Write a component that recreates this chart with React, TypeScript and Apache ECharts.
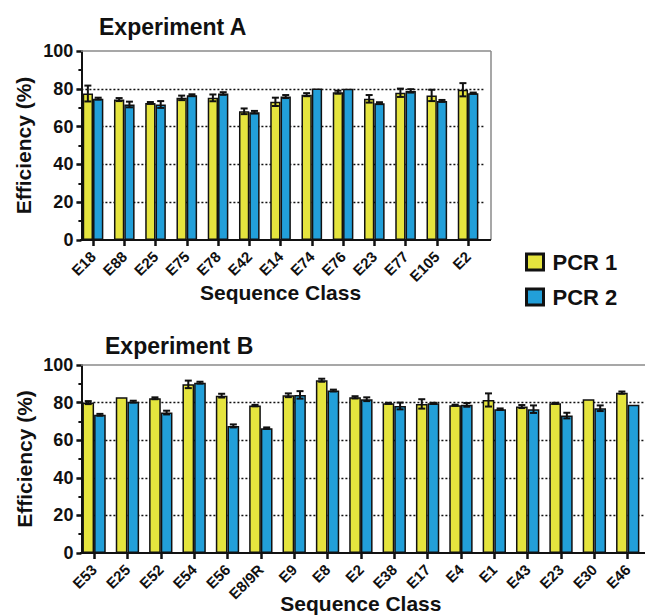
import React, { useEffect, useRef } from "react";
import * as echarts from "echarts";

const catsA = ["E18", "E88", "E25", "E75", "E78", "E42", "E14", "E74", "E76", "E23", "E77", "E105", "E2"];
const pcr1A = [77.5, 74.3, 72.5, 75.2, 75.2, 68.1, 73.1, 76.9, 78.2, 74.7, 77.9, 76.5, 79.5];
const pcr1ErrA = [4.2, 0.8, 0.5, 1.2, 1.8, 1.5, 2.2, 0.8, 0.8, 2.0, 2.2, 3.0, 3.5];
const pcr2A = [74.8, 71.7, 71.7, 76.6, 77.5, 67.6, 75.9, 80.1, 80.0, 72.4, 78.9, 73.6, 77.7];
const pcr2ErrA = [0.5, 1.5, 1.8, 0.5, 0.7, 0.7, 0.8, 0, 0, 0.5, 0.9, 0.5, 0.3];

const catsB = ["E53", "E25", "E52", "E54", "E56", "E8/9R", "E9", "E8", "E2", "E38", "E17", "E4", "E1", "E43", "E23", "E30", "E46"];
const pcr1B = [80.0, 82.8, 82.3, 89.7, 83.7, 78.4, 83.9, 91.9, 82.8, 79.6, 79.3, 78.6, 81.4, 77.9, 79.6, 81.8, 85.3];
const pcr1ErrB = [0.8, 0, 0.5, 2.0, 1.0, 0.4, 1.0, 0.8, 0.6, 0.3, 2.5, 0.3, 3.5, 0.8, 0.3, 0, 0.6];
const pcr2B = [73.5, 80.5, 74.7, 90.6, 67.6, 66.4, 84.1, 86.4, 81.8, 78.2, 79.6, 78.8, 76.5, 76.5, 73.1, 77.0, 78.8];
const pcr2ErrB = [0.5, 0.5, 1.0, 0.5, 0.8, 0.4, 2.0, 0.5, 1.0, 1.8, 0.3, 1.0, 0.4, 2.0, 1.5, 1.5, 0];

const yTicks = [0, 20, 40, 60, 80, 100];

const FONT = "'Liberation Sans', Arial, Helvetica, sans-serif";
const YELLOW = "#e5e43e";
const BLUE = "#229fd9";
const INK = "#111111";

const RATIO_A = 0.33;
const RATIO_B = 0.35;

function errData(vals: number[], errs: number[], side: number) {
  return vals.map((v, i) => [i, v, errs[i], side]);
}

function makeErrSeries(xi: number, data: number[][], ratio: number) {
  return {
    type: "custom",
    xAxisIndex: xi,
    yAxisIndex: xi,
    silent: true,
    z: 5,
    data,
    renderItem: (params: any, api: any) => {
      const idx = api.value(0);
      const val = api.value(1);
      const err = api.value(2);
      const side = api.value(3);
      const band = api.size([1, 0])[0];
      const bw = band * ratio;
      const c = api.coord([idx, val]);
      const x = c[0] + (side === 0 ? -bw / 2 : bw / 2);
      const lw = 2;
      const cap = 3.5;
      const style = { stroke: INK, lineWidth: lw };
      if (err <= 0) return { type: "group", children: [] };
      const top = api.coord([idx, val + err])[1];
      const bot = api.coord([idx, val - err])[1];
      return {
        type: "group",
        children: [
          { type: "line", shape: { x1: x, y1: top, x2: x, y2: bot }, style },
          { type: "line", shape: { x1: x - cap, y1: top, x2: x + cap, y2: top }, style },
          { type: "line", shape: { x1: x - cap, y1: bot, x2: x + cap, y2: bot }, style },
        ],
      };
    },
  };
}

function yAxisCfg(gi: number, nameGap: number) {
  return {
    type: "value",
    gridIndex: gi,
    min: 0,
    max: 100,
    interval: 20,
    offset: -4,
    name: "Efficiency (%)",
    nameLocation: "middle",
    nameRotate: 90,
    nameGap,
    nameMoveOverlap: false,
    nameTextStyle: { fontFamily: FONT, fontWeight: "bold", fontSize: 21, color: INK },
    axisLine: { show: true, lineStyle: { color: INK, width: 2 } },
    axisTick: { show: true, length: 5, lineStyle: { color: INK, width: 2.5 } },
    minorTick: { show: true, splitNumber: 2, length: 3, lineStyle: { color: INK, width: 2 } },
    axisLabel: {
      fontFamily: FONT,
      fontWeight: "bold",
      fontSize: 18,
      color: INK,
      margin: 8,
      customValues: yTicks,
    },
    splitLine: {
      show: true,
      showMinLine: false,
      showMaxLine: false,
      lineStyle: { color: INK, width: 1.3, type: [2, 2] },
    },
  };
}

function xAxisCfg(gi: number, cats: string[], nameGap: number) {
  return {
    type: "category",
    gridIndex: gi,
    data: cats,
    name: "Sequence Class",
    nameLocation: "middle",
    nameGap,
    nameMoveOverlap: false,
    nameTextStyle: { fontFamily: FONT, fontWeight: "bold", fontSize: 21, color: INK },
    axisLine: { show: false },
    axisTick: { show: true, alignWithLabel: true, length: 6, lineStyle: { color: INK, width: 2.5 } },
    axisLabel: {
      interval: 0,
      rotate: 45,
      fontFamily: FONT,
      fontWeight: "bold",
      fontSize: 15,
      color: INK,
      margin: 14,
    },
    splitLine: { show: false },
  };
}

function barSeries(name: string, xi: number, data: number[], color: string, width: string) {
  return {
    type: "bar",
    name,
    xAxisIndex: xi,
    yAxisIndex: xi,
    data,
    barWidth: width,
    barGap: "0%",
    itemStyle: { color, borderColor: INK, borderWidth: 1.5 },
    z: 3,
  };
}

export default function App() {
  const ref = useRef<HTMLDivElement>(null);
  useEffect(() => {
    if (!ref.current) return;
    const chart = echarts.init(ref.current, undefined, { renderer: "svg" });
    const grey = { stroke: "#8a8a8a", lineWidth: 1.5 };
    const black = { stroke: INK, lineWidth: 2 };
    chart.setOption({
      animation: false,
      backgroundColor: "#ffffff",
      title: [
        {
          text: "Experiment A",
          left: 94,
          top: 10,
          textStyle: { fontFamily: FONT, fontWeight: "bold", fontSize: 23, color: INK },
        },
        {
          text: "Experiment B",
          left: 100,
          top: 329,
          textStyle: { fontFamily: FONT, fontWeight: "bold", fontSize: 23, color: INK },
        },
      ],
      legend: {
        data: ["PCR 1", "PCR 2"],
        orient: "vertical",
        left: 520,
        top: 246,
        icon: "rect",
        itemWidth: 17,
        itemHeight: 16,
        itemGap: 13,
        itemStyle: { borderColor: INK, borderWidth: 3 },
        textStyle: { fontFamily: FONT, fontWeight: "bold", fontSize: 22, color: INK, padding: [0, 0, 0, 4] },
      },
      grid: [
        { left: 77.4, top: 51, width: 406.3, height: 189, outerBoundsMode: "none", containLabel: false },
        { left: 77.4, top: 365, width: 567, height: 188, outerBoundsMode: "none", containLabel: false },
      ],
      xAxis: [xAxisCfg(0, catsA, 42), xAxisCfg(1, catsB, 40)],
      yAxis: [yAxisCfg(0, 47), yAxisCfg(1, 46)],
      graphic: [
        { type: "line", shape: { x1: 81, y1: 51, x2: 491, y2: 51 }, style: grey, z: 1 },
        { type: "line", shape: { x1: 491, y1: 51, x2: 491, y2: 240 }, style: grey, z: 1 },
        { type: "line", shape: { x1: 80, y1: 240, x2: 491, y2: 240 }, style: black, z: 10 },
        { type: "line", shape: { x1: 81, y1: 365, x2: 645, y2: 365 }, style: grey, z: 1 },
        { type: "line", shape: { x1: 80, y1: 553, x2: 645, y2: 553 }, style: black, z: 10 },
      ],
      series: [
        barSeries("PCR 1", 0, pcr1A, YELLOW, RATIO_A * 100 + "%"),
        barSeries("PCR 2", 0, pcr2A, BLUE, RATIO_A * 100 + "%"),
        barSeries("PCR 1", 1, pcr1B, YELLOW, RATIO_B * 100 + "%"),
        barSeries("PCR 2", 1, pcr2B, BLUE, RATIO_B * 100 + "%"),
        makeErrSeries(0, errData(pcr1A, pcr1ErrA, 0), RATIO_A),
        makeErrSeries(0, errData(pcr2A, pcr2ErrA, 1), RATIO_A),
        makeErrSeries(1, errData(pcr1B, pcr1ErrB, 0), RATIO_B),
        makeErrSeries(1, errData(pcr2B, pcr2ErrB, 1), RATIO_B),
      ],
    });
    return () => chart.dispose();
  }, []);
  return (
    <div
      ref={ref}
      style={{ position: "absolute", left: 0, top: 0, width: 645, height: 615, background: "#fff" }}
    />
  );
}
